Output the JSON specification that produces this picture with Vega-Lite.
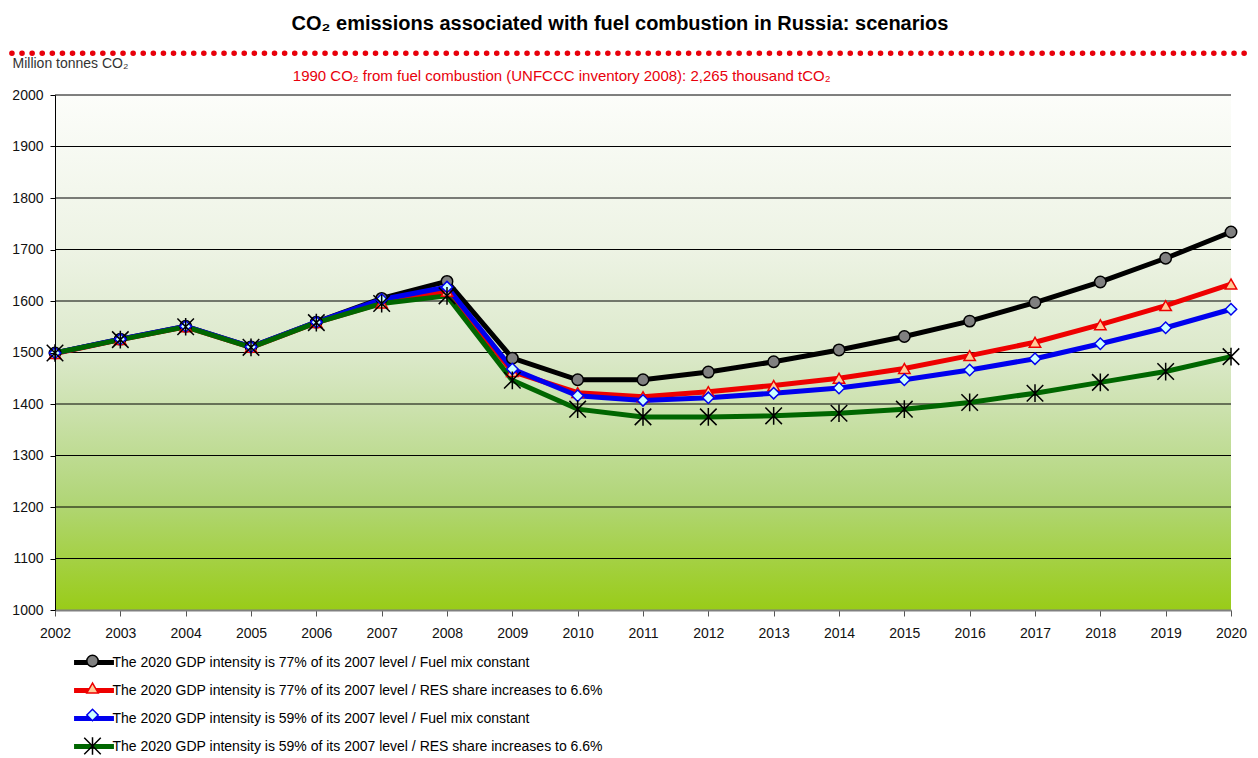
{
  "$schema": "https://vega.github.io/schema/vega-lite/v6.json",
  "width": 1176,
  "height": 515,
  "autosize": {"type": "none"},
  "padding": {"left": 55, "top": 95, "right": 27, "bottom": 148},
  "background": "white",
  "config": {"font": "Liberation Sans Narrow, Arial Narrow, sans-serif", "view": {"stroke": null}},
  "title": {"text": "CO₂ emissions associated with fuel combustion in Russia: scenarios", "fontSize": 20, "fontWeight": "bold", "anchor": "middle", "frame": "group", "dx": -23, "offset": 1, "baseline": "alphabetic", "color": "#000"},
  "datasets": {
    "em": [
      {"year": 2002, "series": "s1", "value": 1499}, {"year": 2003, "series": "s1", "value": 1526}, {"year": 2004, "series": "s1", "value": 1551}, {"year": 2005, "series": "s1", "value": 1511}, {"year": 2006, "series": "s1", "value": 1559}, {"year": 2007, "series": "s1", "value": 1605}, {"year": 2008, "series": "s1", "value": 1638}, {"year": 2009, "series": "s1", "value": 1489}, {"year": 2010, "series": "s1", "value": 1447}, {"year": 2011, "series": "s1", "value": 1447}, {"year": 2012, "series": "s1", "value": 1462}, {"year": 2013, "series": "s1", "value": 1482}, {"year": 2014, "series": "s1", "value": 1505}, {"year": 2015, "series": "s1", "value": 1531}, {"year": 2016, "series": "s1", "value": 1561}, {"year": 2017, "series": "s1", "value": 1597}, {"year": 2018, "series": "s1", "value": 1637}, {"year": 2019, "series": "s1", "value": 1683}, {"year": 2020, "series": "s1", "value": 1734},
      {"year": 2002, "series": "s2", "value": 1498}, {"year": 2003, "series": "s2", "value": 1525}, {"year": 2004, "series": "s2", "value": 1550}, {"year": 2005, "series": "s2", "value": 1510}, {"year": 2006, "series": "s2", "value": 1558}, {"year": 2007, "series": "s2", "value": 1596}, {"year": 2008, "series": "s2", "value": 1619}, {"year": 2009, "series": "s2", "value": 1463}, {"year": 2010, "series": "s2", "value": 1422}, {"year": 2011, "series": "s2", "value": 1414}, {"year": 2012, "series": "s2", "value": 1424}, {"year": 2013, "series": "s2", "value": 1436}, {"year": 2014, "series": "s2", "value": 1450}, {"year": 2015, "series": "s2", "value": 1469}, {"year": 2016, "series": "s2", "value": 1494}, {"year": 2017, "series": "s2", "value": 1520}, {"year": 2018, "series": "s2", "value": 1554}, {"year": 2019, "series": "s2", "value": 1591}, {"year": 2020, "series": "s2", "value": 1633},
      {"year": 2002, "series": "s3", "value": 1499}, {"year": 2003, "series": "s3", "value": 1526}, {"year": 2004, "series": "s3", "value": 1551}, {"year": 2005, "series": "s3", "value": 1511}, {"year": 2006, "series": "s3", "value": 1559}, {"year": 2007, "series": "s3", "value": 1603}, {"year": 2008, "series": "s3", "value": 1627}, {"year": 2009, "series": "s3", "value": 1468}, {"year": 2010, "series": "s3", "value": 1416}, {"year": 2011, "series": "s3", "value": 1407}, {"year": 2012, "series": "s3", "value": 1412}, {"year": 2013, "series": "s3", "value": 1421}, {"year": 2014, "series": "s3", "value": 1431}, {"year": 2015, "series": "s3", "value": 1447}, {"year": 2016, "series": "s3", "value": 1466}, {"year": 2017, "series": "s3", "value": 1488}, {"year": 2018, "series": "s3", "value": 1517}, {"year": 2019, "series": "s3", "value": 1548}, {"year": 2020, "series": "s3", "value": 1584},
      {"year": 2002, "series": "s4", "value": 1499}, {"year": 2003, "series": "s4", "value": 1525}, {"year": 2004, "series": "s4", "value": 1550}, {"year": 2005, "series": "s4", "value": 1510}, {"year": 2006, "series": "s4", "value": 1558}, {"year": 2007, "series": "s4", "value": 1595}, {"year": 2008, "series": "s4", "value": 1610}, {"year": 2009, "series": "s4", "value": 1446}, {"year": 2010, "series": "s4", "value": 1390}, {"year": 2011, "series": "s4", "value": 1375}, {"year": 2012, "series": "s4", "value": 1375}, {"year": 2013, "series": "s4", "value": 1377}, {"year": 2014, "series": "s4", "value": 1382}, {"year": 2015, "series": "s4", "value": 1390}, {"year": 2016, "series": "s4", "value": 1403}, {"year": 2017, "series": "s4", "value": 1421}, {"year": 2018, "series": "s4", "value": 1442}, {"year": 2019, "series": "s4", "value": 1463}, {"year": 2020, "series": "s4", "value": 1492}
    ],
    "grid": [{"g": 1100}, {"g": 1200}, {"g": 1300}, {"g": 1400}, {"g": 1500}, {"g": 1600}, {"g": 1700}, {"g": 1800}, {"g": 1900}, {"g": 2000}]
  },
  "layer": [
    {
      "data": {"values": [{}]},
      "mark": {"type": "rect", "fill": {"gradient": "linear", "x1": 0, "y1": 0, "x2": 0, "y2": 1, "stops": [{"offset": 0, "color": "#fcfdfa"}, {"offset": 0.3, "color": "#edf3e4"}, {"offset": 0.5, "color": "#dce9cb"}, {"offset": 0.6, "color": "#cde2b0"}, {"offset": 0.78, "color": "#b2d67a"}, {"offset": 1, "color": "#99cc18"}]}},
      "encoding": {
        "x": {"datum": 2002, "type": "quantitative", "scale": {"domain": [2002, 2020], "nice": false, "zero": false},
          "axis": {"values": [2002, 2003, 2004, 2005, 2006, 2007, 2008, 2009, 2010, 2011, 2012, 2013, 2014, 2015, 2016, 2017, 2018, 2019, 2020], "format": "d", "title": null, "grid": false, "domainColor": "#808080", "domainWidth": 2, "tickColor": "#555", "tickSize": 6, "labelFontSize": 14, "labelColor": "#111", "labelPadding": 10, "labelFlush": false, "zindex": 1}},
        "x2": {"datum": 2020},
        "y": {"datum": 1000, "type": "quantitative", "scale": {"domain": [1000, 2000], "nice": false, "zero": false},
          "axis": {"values": [1000, 1100, 1200, 1300, 1400, 1500, 1600, 1700, 1800, 1900, 2000], "format": "d", "title": "Million tonnes CO₂", "titleAngle": 0, "titleAlign": "left", "titleBaseline": "middle", "titleX": -43, "titleY": -32, "titleFontSize": 14, "titleFontWeight": "normal", "titleColor": "#333", "grid": false, "domainColor": "#000", "tickColor": "#000", "tickSize": 5, "labelFontSize": 14, "labelColor": "#111", "labelPadding": 7, "zindex": 1}},
        "y2": {"datum": 2000}
      }
    },
    {
      "data": {"name": "grid"},
      "mark": {"type": "rule", "color": "#000", "strokeWidth": 1},
      "encoding": {
        "x": {"datum": 2002, "type": "quantitative"},
        "x2": {"datum": 2020},
        "y": {"field": "g", "type": "quantitative"}
      }
    },
    {
      "data": {"values": [{}]},
      "mark": {"type": "rule", "color": "#e8000b", "strokeWidth": 5.5, "strokeDash": [0.1, 10], "strokeCap": "round", "clip": false},
      "encoding": {
        "x": {"datum": 2001.34, "type": "quantitative"},
        "x2": {"datum": 2020.3},
        "y": {"datum": 2081, "type": "quantitative"}
      }
    },
    {
      "data": {"values": [{}]},
      "mark": {"type": "text", "text": "1990 CO₂ from fuel combustion  (UNFCCC inventory 2008): 2,265 thousand tCO₂", "align": "left", "baseline": "middle", "fontSize": 15, "color": "#e8000b"},
      "encoding": {
        "x": {"datum": 2005.64, "type": "quantitative"},
        "y": {"datum": 2037, "type": "quantitative"}
      }
    },
    {
      "data": {"name": "em"},
      "mark": {"type": "line", "strokeWidth": 5},
      "encoding": {
        "x": {"field": "year", "type": "quantitative"},
        "y": {"field": "value", "type": "quantitative"},
        "color": {"field": "series", "type": "nominal", "scale": {"domain": ["s1", "s2", "s3", "s4"], "range": ["#000000", "#ee0000", "#0000ee", "#006600"]},
          "legend": {"orient": "none", "legendX": 30.5, "legendY": 559, "title": null, "symbolType": "M-3.5,0L3.5,0", "symbolSize": 130, "symbolStrokeWidth": 5, "rowPadding": 7, "labelFontSize": 14, "labelLimit": 700, "labelOffset": 10, "labelColor": "#000", "zindex": 1,
            "labelExpr": "datum.label == 's1' ? 'The 2020 GDP intensity is 77% of its 2007 level / Fuel mix constant' : datum.label == 's2' ? 'The 2020 GDP intensity is 77% of its 2007 level / RES share increases to 6.6%' : datum.label == 's3' ? 'The 2020 GDP intensity is 59% of its 2007 level / Fuel mix constant' : 'The 2020 GDP intensity is 59% of its 2007 level / RES share increases to 6.6%'"}}
      }
    },
    {
      "data": {"name": "em"},
      "mark": {"type": "point", "filled": true, "size": 130, "strokeWidth": 1.5, "opacity": 1},
      "encoding": {
        "x": {"field": "year", "type": "quantitative"},
        "y": {"field": "value", "type": "quantitative"},
        "shape": {"field": "series", "type": "nominal", "scale": {"range": ["circle", "triangle-up", "diamond", "M-1.45,-1.45L1.45,1.45M1.45,-1.45L-1.45,1.45M0,-1.55L0,1.55"]},
          "legend": {"orient": "none", "legendX": 30.5, "legendY": 559, "title": null, "labelExpr": "''", "rowPadding": 10, "symbolSize": 130, "symbolStrokeWidth": 1.5, "symbolOpacity": 1, "labelFontSize": 14, "zindex": 2}},
        "fill": {"field": "series", "type": "nominal", "scale": {"range": ["#808080", "#ffcc99", "#ccffff", "transparent"]}},
        "stroke": {"field": "series", "type": "nominal", "scale": {"range": ["#000000", "#ee0000", "#0000ee", "#000000"]}}
      }
    }
  ]
}
